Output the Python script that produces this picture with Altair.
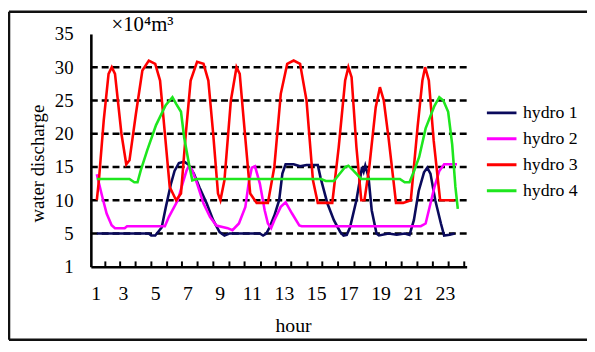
import altair as alt
import pandas as pd

# ---- data ----
series_names = ["hydro 1", "hydro 2", "hydro 3", "hydro 4"]
series_colors = ["#0a0a5c", "#ff00ff", "#ff0000", "#1ee61e"]

h1_hour = [1.37, 4.6, 4.75, 5.0, 5.4, 5.66, 5.97, 6.2, 6.47, 6.8, 7.05, 7.4, 7.75, 8.2, 8.6, 9.0, 9.3, 9.6,
           11.5, 11.7, 11.9, 12.1, 12.4, 12.7, 12.9, 13.1, 13.6, 14.0, 14.4, 15.1, 15.27, 15.7, 16.1, 16.5,
           16.7, 16.9, 17.1, 17.5, 17.85, 17.95, 18.05, 18.25, 18.45, 18.75, 18.9, 19.5, 20.0, 20.5, 20.8,
           21.07, 21.37, 21.7, 21.9, 22.1, 22.4, 22.75, 22.95, 23.3, 23.6]
h1_flow = [5, 5, 4.7, 4.7, 5.9, 9, 12.4, 14.4, 15.6, 15.8, 15.4, 14, 11.9, 9.5, 7, 5.2, 4.7, 5,
           5, 4.7, 5, 5.9, 7.7, 10, 14, 15.4, 15.4, 15.1, 15.3, 15.3, 13.4, 9.5, 7, 5.2,
           4.7, 4.8, 5.9, 10, 15, 14.3, 15.2, 13.5, 8.5, 5, 4.7, 5, 4.8, 5, 4.8,
           7, 11.4, 14.2, 14.9, 14, 10, 6.5, 4.7, 4.8, 5]

h2_hour = [1.37, 1.67, 1.98, 2.29, 2.5, 3.1, 3.25, 5.6, 5.85, 6.4, 6.7, 6.95, 7.1, 7.3, 7.6, 8.0, 8.4, 8.8,
           9.5, 9.8, 10.2, 10.6, 10.8, 11.0, 11.2, 11.5, 11.8, 12.0, 12.2, 12.4, 12.8, 13.1, 13.5, 13.95,
           14.1, 21.5, 21.8, 22.0, 22.35, 22.65, 22.95, 23.75]
h2_flow = [13.9, 10.9, 8, 6.25, 5.8, 5.8, 6.1, 6.1, 7.5, 10, 12.5, 14.5, 15.2, 14.5, 12.5, 9.5, 7.5, 6.2,
           5.8, 5.5, 6.5, 9, 12.5, 14.9, 15.1, 12.5, 8.5, 6.5, 5.8, 7, 9, 9.7, 8, 6.2,
           6.1, 6.1, 6.5, 8.5, 12, 14.4, 15.4, 15.4]

h3_hour = [1.37, 1.5, 1.8, 2.1, 2.3, 2.5, 2.9, 3.2, 3.4, 3.8, 4.2, 4.6, 5.0, 5.3, 5.6, 5.9, 6.3, 6.6, 6.9,
           7.2, 7.6, 8.0, 8.3, 8.6, 8.9, 9.05, 9.3, 9.7, 10.05, 10.25, 10.5, 10.9, 11.3, 12.0, 12.4, 12.8,
           13.2, 13.6, 14.0, 14.4, 14.8, 15.1, 16.0, 16.4, 16.8, 17.0, 17.2, 17.5, 17.8, 18.0, 18.3, 18.7,
           18.96, 19.2, 19.5, 19.96, 20.4, 20.88, 21.3, 21.6, 21.77, 22.0, 22.3, 22.7, 23.6]
h3_flow = [10, 13, 22, 29, 30, 29, 20, 15.4, 16, 23, 29.5, 31, 30.5, 28, 20, 12, 10, 11, 20,
           28, 30.8, 30.5, 28, 20, 11, 10, 13, 25, 30, 29, 22, 11, 9.6, 9.6, 15, 26,
           30.5, 31, 30.5, 25, 13, 9.6, 9.6, 18, 28, 30, 28.5, 18, 10, 10, 15, 24,
           27, 25, 19.3, 9.6, 9.6, 10, 21, 28, 30, 28, 19, 10, 10]

h4_hour = [1.37, 3.4, 3.7, 3.9, 4.1, 4.5, 5.05, 5.65, 6.07, 6.3, 6.6, 6.8, 7.1, 7.3, 7.6, 15.3, 15.6, 16.1,
           16.4, 16.8, 17.0, 17.3, 17.8, 20.2, 20.5, 20.8, 21.1, 21.4, 21.8, 22.35, 22.65, 22.9, 23.2,
           23.45, 23.65, 23.8]
h4_flow = [13.2, 13.2, 12.7, 12.7, 14.5, 17.5, 21.3, 24.3, 25.5, 24.5, 23.3, 19.4, 15.4, 13, 13.2, 13.2, 12.9, 12.9,
           13.8, 15, 15.2, 14.5, 13.2, 13.2, 12.7, 12.7, 14.5, 16.5, 20.8, 24.2, 25.5, 25, 23.3,
           18.4, 12, 8.7]

x_label_values = [1, 3, 5, 7, 9, 11, 13, 15, 17, 19, 21, 23]
x_tick_marks = [1.90, 2.82, 3.78, 4.76, 5.74, 6.66, 7.63, 8.61, 9.61, 10.55, 11.57, 12.49, 13.45,
                14.46, 15.38, 16.36, 17.38, 18.36, 19.34, 20.31, 21.29, 22.25, 23.23, 24.2]
y_label_values = [0, 5, 10, 15, 20, 25, 30, 35]
grid_values = [5, 10, 15, 20, 25, 30]
unit_text = ["×10⁴m³"]

# ---- tables ----
rows = []
for name, hs, vs in zip(series_names, [h1_hour, h2_hour, h3_hour, h4_hour],
                        [h1_flow, h2_flow, h3_flow, h4_flow]):
    for i, (h, v) in enumerate(zip(hs, vs)):
        rows.append({"series": name, "hour": h, "flow": v, "order": i})
df = pd.DataFrame(rows)

FONT = "Liberation Serif"
xscale = alt.Scale(domain=[1, 24.35], nice=False, zero=False)
yscale = alt.Scale(domain=[0, 35], nice=False)

xaxis = alt.Axis(values=x_label_values, ticks=False, tickSize=0, grid=False,
                 domainColor="black", domainWidth=2.6,
                 labelFontSize=20, labelFont=FONT, labelColor="black",
                 labelBaseline="alphabetic", labelPadding=33,
                 titleFontSize=20, titleFont=FONT, titleFontWeight="normal",
                 titleColor="black", titleX=205, titleY=66,
                 titleBaseline="alphabetic", titleAlign="center")
yaxis = alt.Axis(values=y_label_values, ticks=False, tickSize=0, grid=False,
                 labelExpr="datum.value == 0 ? '1' : datum.label",
                 domainColor="black", domainWidth=2.6,
                 labelFontSize=19, labelFont=FONT, labelColor="black",
                 labelPadding=18,
                 titleFontSize=19, titleFont=FONT, titleFontWeight="normal",
                 titleColor="black", titleX=-48, titleY=131,
                 titleBaseline="alphabetic", titleAlign="center")

grid_df = pd.DataFrame({"flow": grid_values})
grid = alt.Chart(grid_df).mark_rule(
    color="black", strokeWidth=2.6, strokeDash=[7, 4]
).encode(y=alt.Y("flow:Q", scale=yscale, axis=yaxis, title="water discharge"))

tick_df = pd.DataFrame({"hour": x_tick_marks, "flow": [0.0] * len(x_tick_marks),
                        "flow_top": [0.8] * len(x_tick_marks)})
ticks = alt.Chart(tick_df).mark_rule(color="black", strokeWidth=2).encode(
    x=alt.X("hour:Q", scale=xscale, axis=xaxis, title="hour"),
    y=alt.Y("flow:Q", scale=yscale, axis=yaxis, title="water discharge"),
    y2="flow_top:Q",
)

lines = alt.Chart(df).mark_line(strokeWidth=2.6).encode(
    x=alt.X("hour:Q", scale=xscale, axis=xaxis, title="hour"),
    y=alt.Y("flow:Q", scale=yscale, axis=yaxis, title="water discharge"),
    color=alt.Color("series:N",
                    scale=alt.Scale(domain=series_names, range=series_colors),
                    legend=alt.Legend(title=None, orient="none", legendX=400, legendY=67,
                                      symbolType="stroke", symbolSize=900,
                                      symbolStrokeWidth=3, labelFontSize=18,
                                      labelFont=FONT, labelColor="black",
                                      labelOffset=5, clipHeight=26, rowPadding=0.3,
                                      padding=0)),
    order="order:Q"
)

units = alt.Chart(pd.DataFrame({"u": unit_text})).mark_text(
    font=FONT, fontSize=21, align="left", baseline="alphabetic", color="black"
).encode(text="u:N", x=alt.value(21), y=alt.value(-3))

# outer frame: top, left and bottom edges (the right edge runs off the picture)
frame_df = pd.DataFrame({
    "px": [-83, -83, -83], "px2": [700, -83, 700],
    "py": [-22.5, -22.5, 310], "py2": [-22.5, 310, 310],
})
frame = alt.Chart(frame_df).mark_rule(color="#111111", strokeWidth=2.6).encode(
    x=alt.X("px:Q", scale=None), x2="px2:Q",
    y=alt.Y("py:Q", scale=None), y2="py2:Q",
)

chart = alt.layer(grid, ticks, lines, units, frame).properties(
    width=381, height=236,
    padding={"left": 84, "top": 24, "right": 122, "bottom": 76},
    autosize=alt.AutoSizeParams(type="none"),
).configure_view(stroke=None)

chart.save("out.html", embed_options={"renderer": "svg", "actions": False})
